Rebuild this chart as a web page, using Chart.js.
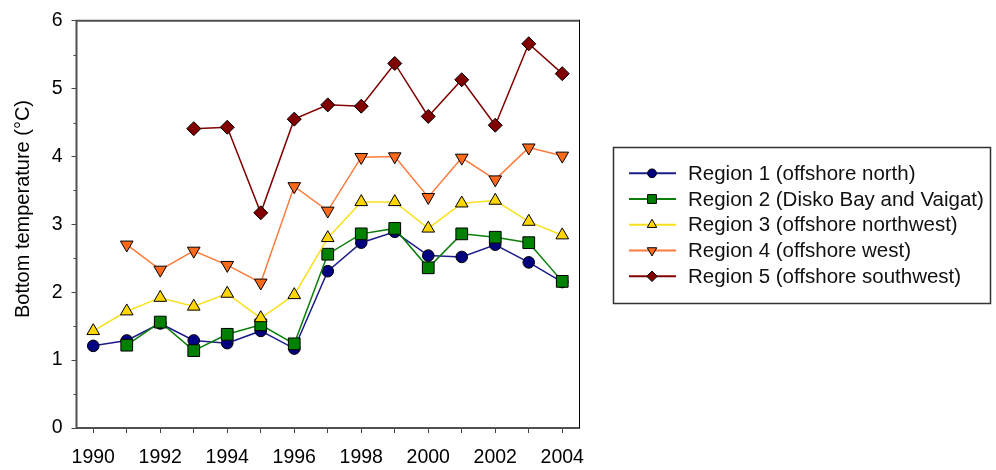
<!DOCTYPE html>
<html>
<head>
<meta charset="utf-8">
<script src="https://cdn.jsdelivr.net/npm/chart.js@4/dist/chart.umd.min.js"></script>
<style>
html,body{margin:0;padding:0;background:#fff;}
#wrap{width:996px;height:470px;}
</style>
</head>
<body>
<div id="wrap"><canvas id="c" width="996" height="470"></canvas></div>
<script>
const years = [1990,1991,1992,1993,1994,1995,1996,1997,1998,1999,2000,2001,2002,2003,2004];
const region1 = [1.21,1.29,1.54,1.29,1.25,1.43,1.17,2.31,2.73,2.89,2.54,2.52,2.70,2.44,2.15];
const region2 = [null,1.22,1.56,1.14,1.38,1.52,1.24,2.56,2.86,2.94,2.36,2.86,2.81,2.73,2.16];
const region3 = [1.43,1.72,1.92,1.79,1.98,1.62,1.96,2.80,3.33,3.33,2.94,3.31,3.35,3.04,2.84];
const region4 = [null,2.70,2.33,2.61,2.40,2.14,3.56,3.20,3.99,4.00,3.40,3.98,3.66,4.13,4.01];
const region5 = [null,null,null,4.41,4.43,3.17,4.55,4.76,4.74,5.37,4.59,5.13,4.46,5.66,5.22];
const seriesNames = [
  'Region 1 (offshore north)',
  'Region 2 (Disko Bay and Vaigat)',
  'Region 3 (offshore northwest)',
  'Region 4 (offshore west)',
  'Region 5 (offshore southwest)'
];
const yTicks = [0,1,2,3,4,5,6];
const xLabelYears = [1990,1992,1994,1996,1998,2000,2002,2004];
const yTitle = 'Bottom temperature (°C)';

const FONT = "'Liberation Sans', Arial, sans-serif";
const styles = [
  {line:'#1c1c8a', fill:'#000080', style:'circle', r:5.8, rot:0},
  {line:'#0a7f0a', fill:'#008000', style:'rect', r:8.3, rot:0},
  {line:'#F8E11A', fill:'#FFD700', style:'triangle', r:7.3, rot:0},
  {line:'#FF7A3A', fill:'#FF6A1A', style:'triangle', r:7.3, rot:180},
  {line:'#800000', fill:'#800000', style:'rectRot', r:7, rot:0}
];
const allSeries = [region1, region2, region3, region4, region5];

const datasets = allSeries.map((arr, i) => ({
  label: seriesNames[i],
  data: years.map((y, k) => ({x: y, y: arr[k]})),
  borderColor: styles[i].line,
  backgroundColor: styles[i].fill,
  borderWidth: 1.5,
  pointStyle: styles[i].style,
  pointRadius: styles[i].r,
  pointRotation: styles[i].rot,
  pointBackgroundColor: styles[i].fill,
  pointBorderColor: '#000',
  pointBorderWidth: 1,
  spanGaps: false,
  tension: 0,
  order: 5 - i
}));

const framePlugin = {
  id: 'frame',
  afterDraw(chart) {
    const ctx = chart.ctx;
    const a = chart.chartArea;
    const ys = chart.scales.y;
    ctx.save();
    // minor y ticks
    ctx.strokeStyle = '#444';
    ctx.lineWidth = 1;
    for (let v = 0.5; v < 6; v += 1) {
      const p = Math.round(ys.getPixelForValue(v)) + 0.5;
      ctx.beginPath();
      ctx.moveTo(a.left - 3, p);
      ctx.lineTo(a.left, p);
      ctx.stroke();
    }
    // frame
    ctx.strokeStyle = '#505050';
    ctx.lineWidth = 2;
    ctx.beginPath();
    ctx.moveTo(a.right, a.top);
    ctx.lineTo(a.left, a.top);
    ctx.lineTo(a.left, a.bottom);
    ctx.lineTo(a.right + 1, a.bottom);
    ctx.stroke();
    ctx.strokeStyle = '#000';
    ctx.lineWidth = 1;
    ctx.beginPath();
    ctx.moveTo(a.right + 0.5, a.top - 1);
    ctx.lineTo(a.right + 0.5, a.bottom);
    ctx.stroke();
    // y axis title
    ctx.fillStyle = '#000';
    ctx.font = '20px ' + FONT;
    ctx.translate(23, 209);
    ctx.rotate(-Math.PI / 2);
    ctx.textAlign = 'center';
    ctx.textBaseline = 'middle';
    ctx.fillText(yTitle, 0, 0);
    ctx.restore();

    // legend
    ctx.save();
    const bx = 613.5, by = 147.5, bw = 377, bh = 156;
    ctx.strokeStyle = '#333';
    ctx.lineWidth = 1.5;
    ctx.strokeRect(bx, by, bw, bh);
    const rowY = [173.3, 199, 224.7, 250.5, 276.3];
    chart.data.datasets.forEach((ds, i) => {
      const y = rowY[i];
      ctx.strokeStyle = ds.borderColor;
      ctx.lineWidth = 2;
      ctx.beginPath();
      ctx.moveTo(629, y);
      ctx.lineTo(676, y);
      ctx.stroke();
      ctx.fillStyle = ds.pointBackgroundColor;
      ctx.strokeStyle = '#000';
      ctx.lineWidth = 1;
      Chart.helpers.drawPoint(ctx, {
        pointStyle: ds.pointStyle,
        rotation: ds.pointRotation,
        radius: ds.pointRadius * 0.75,
        borderWidth: 1
      }, 652, y);
      ctx.fillStyle = '#111';
      ctx.font = '20.5px ' + FONT;
      ctx.textAlign = 'left';
      ctx.textBaseline = 'middle';
      ctx.fillText(ds.label, 688, y + 1);
    });
    ctx.restore();
  }
};

new Chart(document.getElementById('c'), {
  type: 'line',
  data: { datasets },
  options: {
    responsive: false,
    animation: false,
    devicePixelRatio: 1,
    layout: { padding: { top: 17, right: 417, left: 0, bottom: 0 } },
    plugins: { legend: { display: false }, tooltip: { enabled: false } },
    scales: {
      x: {
        type: 'linear',
        min: 1989.5,
        max: 2004.5,
        afterBuildTicks(scale) { scale.ticks = years.map(v => ({value: v})); },
        afterFit(scale) { scale.height = 42; },
        border: { display: false },
        grid: { drawOnChartArea: false, drawTicks: true, tickLength: 5, color: '#444', tickColor: '#444' },
        ticks: {
          autoSkip: false,
          maxRotation: 0,
          padding: 13,
          color: '#000',
          font: { family: FONT, size: 19.5 },
          callback: (v) => xLabelYears.includes(v) ? String(v) : ''
        }
      },
      y: {
        min: 0,
        max: 6,
        afterBuildTicks(scale) { scale.ticks = yTicks.map(v => ({value: v})); },
        afterFit(scale) { scale.width = 76.5; },
        border: { display: false },
        grid: { drawOnChartArea: false, drawTicks: true, tickLength: 5, color: '#444', tickColor: '#444' },
        ticks: {
          padding: 9,
          color: '#000',
          font: { family: FONT, size: 19.5 },
          callback: (v) => String(v)
        }
      }
    }
  },
  plugins: [framePlugin]
});
</script>
</body>
</html>
